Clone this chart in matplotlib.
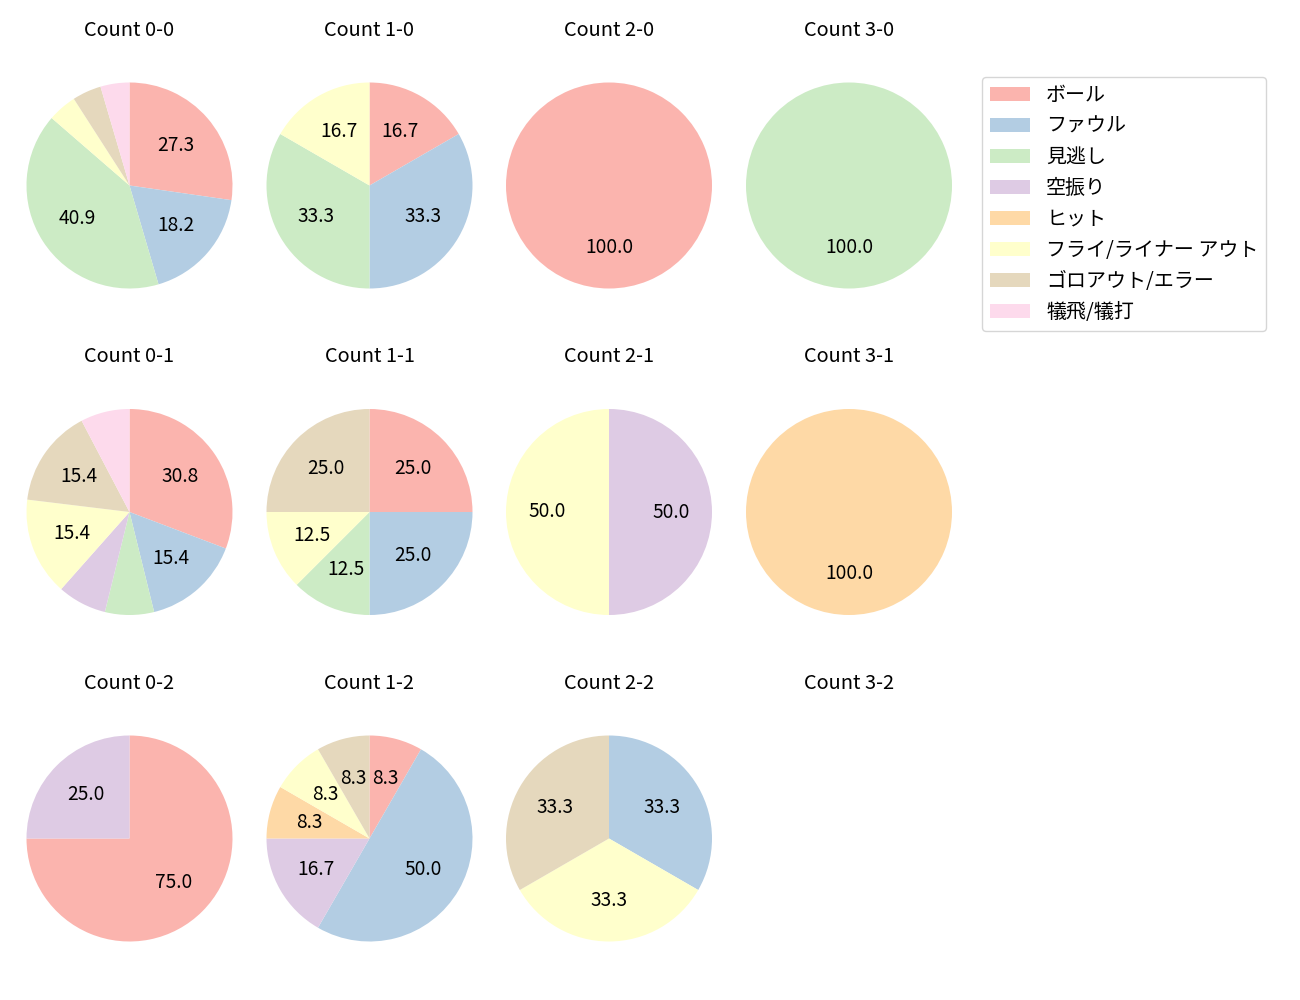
import numpy as np
import matplotlib
matplotlib.use("Agg")
import matplotlib.pyplot as plt
from matplotlib.patches import Patch

plt.rcParams["font.family"] = ["Noto Sans CJK JP", "DejaVu Sans"]

categories = ["ボール", "ファウル", "見逃し", "空振り", "ヒット",
              "フライ/ライナー アウト", "ゴロアウト/エラー", "犠飛/犠打"]
colors = ["#fbb4ae", "#b3cde3", "#ccebc5", "#decbe4", "#fed9a6",
          "#ffffcc", "#e5d8bd", "#fddaec"]

# counts per category, same order as categories
count_0_0 = [6, 4, 9, 0, 0, 1, 1, 1]
count_1_0 = [1, 2, 2, 0, 0, 1, 0, 0]
count_2_0 = [1, 0, 0, 0, 0, 0, 0, 0]
count_3_0 = [0, 0, 1, 0, 0, 0, 0, 0]
count_0_1 = [4, 2, 1, 1, 0, 2, 2, 1]
count_1_1 = [2, 2, 1, 0, 0, 1, 2, 0]
count_2_1 = [0, 0, 0, 1, 0, 1, 0, 0]
count_3_1 = [0, 0, 0, 0, 1, 0, 0, 0]
count_0_2 = [3, 0, 0, 1, 0, 0, 0, 0]
count_1_2 = [1, 6, 0, 2, 1, 1, 1, 0]
count_2_2 = [0, 1, 0, 0, 0, 1, 1, 0]
count_3_2 = [0, 0, 0, 0, 0, 0, 0, 0]

grid = [
    [("Count 0-0", count_0_0), ("Count 1-0", count_1_0), ("Count 2-0", count_2_0), ("Count 3-0", count_3_0)],
    [("Count 0-1", count_0_1), ("Count 1-1", count_1_1), ("Count 2-1", count_2_1), ("Count 3-1", count_3_1)],
    [("Count 0-2", count_0_2), ("Count 1-2", count_1_2), ("Count 2-2", count_2_2), ("Count 3-2", count_3_2)],
]

W, H = 1300, 1000
FS = 14.4
fig = plt.figure(figsize=(13, 10), dpi=100)

col_cx = [129.5, 369.5, 609, 849]
row_cy = [185.5, 512, 838.5]
side = 257.5  # px, pie radius ~103 px


def autopct(p):
    return f"{p:.1f}" if p >= 8 else ""


for r, row in enumerate(grid):
    for c, (title, vals) in enumerate(row):
        cx, cy = col_cx[c], row_cy[r]
        ax = fig.add_axes([(cx - side / 2) / W, 1 - (cy + side / 2) / H, side / W, side / H])
        if sum(vals) > 0:
            ax.pie(vals, colors=colors, startangle=90, counterclock=False,
                   autopct=autopct, textprops={"fontsize": 13.8})
        else:
            ax.set_xlim(-1.25, 1.25); ax.set_ylim(-1.25, 1.25)
        ax.set_aspect("equal")
        ax.axis("off")
        ax.set_title(title, fontsize=FS, pad=15)

handles = [Patch(facecolor=col, label=lab) for col, lab in zip(colors, categories)]
fig.legend(handles=handles, loc="upper left", bbox_to_anchor=(982 / W, 1 - 77 / H),
           borderaxespad=0, fontsize=FS)

fig.savefig("out.png", dpi=100)
